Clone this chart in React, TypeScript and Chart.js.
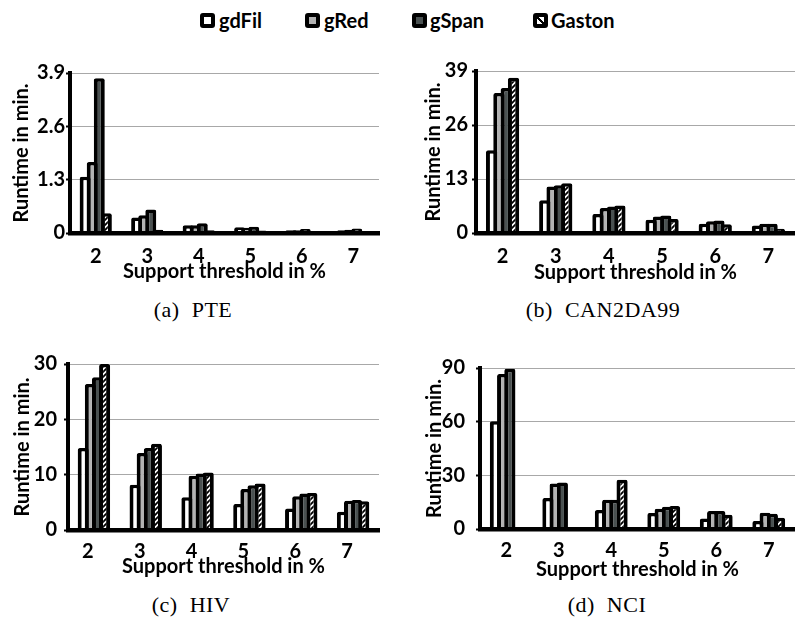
import React, { useEffect, useRef } from 'react';
import { Chart, registerables } from 'chart.js';
Chart.register(...registerables);

const categories = ['2', '3', '4', '5', '6', '7'];
const seriesNames = ['gdFil', 'gRed', 'gSpan', 'Gaston'];

// (a) PTE
const pteGdFil = [1.37, 0.38, 0.19, 0.14, 0.07, 0.07];
const pteGRed = [1.73, 0.43, 0.19, 0.13, 0.07, 0.08];
const pteGSpan = [3.77, 0.57, 0.24, 0.15, 0.10, 0.11];
const pteGaston = [0.48, 0.08, 0.07, 0.06, 0.04, 0.05];
const pteTicks = [0, 1.3, 2.6, 3.9];

// (b) CAN2DA99
const canGdFil = [19.9, 7.9, 4.6, 3.2, 2.2, 1.8];
const canGRed = [33.7, 11.2, 6.0, 4.0, 2.8, 2.2];
const canGSpan = [34.9, 11.5, 6.4, 4.2, 3.0, 2.2];
const canGaston = [37.4, 12.0, 6.6, 3.4, 2.1, 1.0];
const canTicks = [0, 13, 26, 39];

// (c) HIV
const hivGdFil = [14.8, 8.2, 5.9, 4.7, 3.9, 3.3];
const hivGRed = [26.4, 13.9, 9.8, 7.4, 6.1, 5.3];
const hivGSpan = [27.6, 14.8, 10.2, 8.1, 6.6, 5.4];
const hivGaston = [30.0, 15.6, 10.4, 8.4, 6.7, 5.2];
const hivTicks = [0, 10, 20, 30];

// (d) NCI
const nciGdFil = [60.2, 17.3, 10.6, 9.0, 5.9, 4.5];
const nciGRed = [86.6, 25.5, 16.4, 11.3, 10.0, 9.1];
const nciGSpan = [89.6, 26.0, 16.4, 12.5, 10.0, 8.5];
const nciGaston = [null, null, 27.5, 12.8, 8.0, 6.3];
const nciTicks = [0, 30, 60, 90];

const captions = ['(a) PTE', '(b) CAN2DA99', '(c) HIV', '(d) NCI'];
const xTitle = 'Support threshold in %';
const yTitle = 'Runtime in min.';

type Panel = {
  canvas: { left: number; top: number; width: number; height: number };
  area: { left: number; top: number; right: number; bottom: number };
  data: (number | null)[][];
  ticks: number[];
  yTitleCenter: number;
  yTickPad: number;
  xTickPad: number;
  xTitleFromBottom: number;
  xLabelOffset: number;
};

const panels: Panel[] = [
  {
    canvas: { left: 0, top: 55, width: 397, height: 235 },
    area: { left: 70, top: 73, right: 379, bottom: 233 },
    data: [pteGdFil, pteGRed, pteGSpan, pteGaston],
    ticks: pteTicks,
    yTitleCenter: 22,
    yTickPad: 1,
    xTickPad: 4,
    xTitleFromBottom: 18,
    xLabelOffset: 0,
  },
  {
    canvas: { left: 400, top: 55, width: 395, height: 235 },
    area: { left: 476, top: 69, right: 795, bottom: 233 },
    data: [canGdFil, canGRed, canGSpan, canGaston],
    ticks: canTicks,
    yTitleCenter: 34,
    yTickPad: 4,
    xTickPad: 4,
    xTitleFromBottom: 17,
    xLabelOffset: 0,
  },
  {
    canvas: { left: 0, top: 345, width: 397, height: 240 },
    area: { left: 68, top: 364, right: 379, bottom: 530 },
    data: [hivGdFil, hivGRed, hivGSpan, hivGaston],
    ticks: hivTicks,
    yTitleCenter: 23,
    yTickPad: 7,
    xTickPad: 2,
    xTitleFromBottom: 18,
    xLabelOffset: -6,
  },
  {
    canvas: { left: 400, top: 345, width: 395, height: 240 },
    area: { left: 480, top: 364, right: 795, bottom: 529 },
    data: [nciGdFil, nciGRed, nciGSpan, nciGaston],
    ticks: nciTicks,
    yTitleCenter: 35,
    yTickPad: 11,
    xTickPad: 2,
    xTitleFromBottom: 15,
    xLabelOffset: 0,
  },
];

const captionPos = [
  { x: 193, y: 310 },
  { x: 603, y: 310 },
  { x: 191, y: 605 },
  { x: 607, y: 605 },
];

function makeHatch(): CanvasPattern | string {
  const c = document.createElement('canvas');
  const s = 5;
  c.width = s;
  c.height = s;
  const g = c.getContext('2d');
  if (!g) return '#fff';
  g.fillStyle = '#fff';
  g.fillRect(0, 0, s, s);
  g.strokeStyle = '#000';
  g.lineWidth = 1.8;
  g.beginPath();
  g.moveTo(-1, s + 1);
  g.lineTo(s + 1, -1);
  g.moveTo(-1, 1);
  g.lineTo(1, -1);
  g.moveTo(s - 1, s + 1);
  g.lineTo(s + 1, s - 1);
  g.stroke();
  return g.createPattern(c, 'repeat') || '#fff';
}

const FONT = 'Lato, "Open Sans", sans-serif';

function PanelChart({ panel }: { panel: Panel }) {
  const ref = useRef<HTMLCanvasElement | null>(null);
  useEffect(() => {
    if (!ref.current) return;
    const hatch = makeHatch();
    const fills: any[] = ['#ffffff', '#b3b3b3', '#4a5151', hatch];
    const { canvas, area } = panel;
    const yWidth = area.left - canvas.left;
    const xHeight = canvas.top + canvas.height - area.bottom;
    const chart = new Chart(ref.current, {
      type: 'bar',
      data: {
        labels: categories,
        datasets: seriesNames.map((name, i) => ({
          label: name,
          data: panel.data[i] as any,
          backgroundColor: fills[i],
          borderColor: '#000',
          borderWidth: { top: 3.5, left: 4, right: 4, bottom: 0 },
          borderSkipped: 'start',
          inflateAmount: 0,
          borderRadius: { topLeft: 2, topRight: 2, bottomLeft: 0, bottomRight: 0 },
          categoryPercentage: 0.55,
          barPercentage: 1.55,
        })),
      } as any,
      options: {
        animation: false,
        responsive: false,
        maintainAspectRatio: false,
        layout: {
          padding: {
            top: area.top - canvas.top,
            right: canvas.left + canvas.width - area.right,
            left: 0,
            bottom: 0,
          },
        },
        plugins: { legend: { display: false }, tooltip: { enabled: false } },
        scales: {
          x: {
            grid: { display: false },
            border: { display: true, color: '#000', width: 4.5, z: 1 },
            ticks: {
              color: '#000',
              font: { family: FONT, size: 20, weight: 'bold' },
              padding: panel.xTickPad,
              labelOffset: panel.xLabelOffset,
            },
            title: {
              display: true,
              text: xTitle,
              color: '#000',
              font: { family: FONT, size: 20, weight: 'bold' },
              padding: { top: 0, bottom: panel.xTitleFromBottom - 12 },
            },
            afterFit: (s: any) => {
              s.height = xHeight;
            },
          },
          y: {
            min: 0,
            max: panel.ticks[panel.ticks.length - 1],
            afterBuildTicks: (s: any) => {
              s.ticks = panel.ticks.map((v) => ({ value: v }));
            },
            grid: {
              color: (ctx: any) => (ctx.tick && ctx.tick.value === 0 ? 'rgba(0,0,0,0)' : '#a8a8a8'),
              lineWidth: 1,
              drawTicks: true,
              tickLength: 4,
              tickColor: '#000',
              tickWidth: 2,
            },
            border: { display: true, color: '#000', width: 4, z: 1 },
            ticks: {
              color: '#000',
              font: { family: FONT, size: 20, weight: 'bold' },
              padding: panel.yTickPad,
              callback: (v: any) => String(v),
            },
            title: {
              display: true,
              text: yTitle,
              color: '#000',
              font: { family: FONT, size: 20, weight: 'bold' },
              padding: { top: panel.yTitleCenter - 12, bottom: 0 },
            },
            afterFit: (s: any) => {
              s.width = yWidth;
            },
          },
        },
      } as any,
    });
    return () => chart.destroy();
  }, [panel]);
  return (
    <canvas
      ref={ref}
      width={panel.canvas.width}
      height={panel.canvas.height}
      style={{
        position: 'absolute',
        left: panel.canvas.left,
        top: panel.canvas.top,
        width: panel.canvas.width,
        height: panel.canvas.height,
      }}
    />
  );
}

const legendItems = [
  { swatch: 200, text: 219, bg: '#ffffff' },
  { swatch: 305, text: 324, bg: '#b3b3b3' },
  { swatch: 412, text: 430, bg: '#4a5151' },
  {
    swatch: 533,
    text: 551,
    bg: 'linear-gradient(to top right, #fff 0%, #fff 38%, #000 38%, #000 62%, #fff 62%, #fff 100%)',
  },
];

export default function App() {
  return (
    <div
      style={{
        position: 'fixed',
        left: 0,
        top: 0,
        width: 795,
        height: 630,
        background: '#fff',
        overflow: 'hidden',
      }}
    >
      {legendItems.map((it, i) => (
        <React.Fragment key={seriesNames[i]}>
          <div
            style={{
              position: 'absolute',
              left: it.swatch,
              top: 13,
              width: 15,
              height: 15,
              boxSizing: 'border-box',
              border: '4px solid #000',
              borderRadius: 3,
              background: it.bg,
            }}
          />
          <div
            style={{
              position: 'absolute',
              left: it.text,
              top: 8,
              fontFamily: FONT,
              fontWeight: 'bold',
              fontSize: 20,
              lineHeight: '24px',
              color: '#000',
              whiteSpace: 'nowrap',
            }}
          >
            {seriesNames[i]}
          </div>
        </React.Fragment>
      ))}
      {panels.map((p, i) => (
        <PanelChart key={i} panel={p} />
      ))}
      {captions.map((c, i) => (
        <div
          key={c}
          style={{
            position: 'absolute',
            left: captionPos[i].x - 150,
            width: 300,
            top: captionPos[i].y - 13,
            textAlign: 'center',
            fontFamily: '"Liberation Serif", "DejaVu Serif", serif',
            fontSize: 22,
            lineHeight: '26px',
            wordSpacing: 6,
            letterSpacing: 0.5,
            color: '#000',
          }}
        >
          {c}
        </div>
      ))}
    </div>
  );
}
